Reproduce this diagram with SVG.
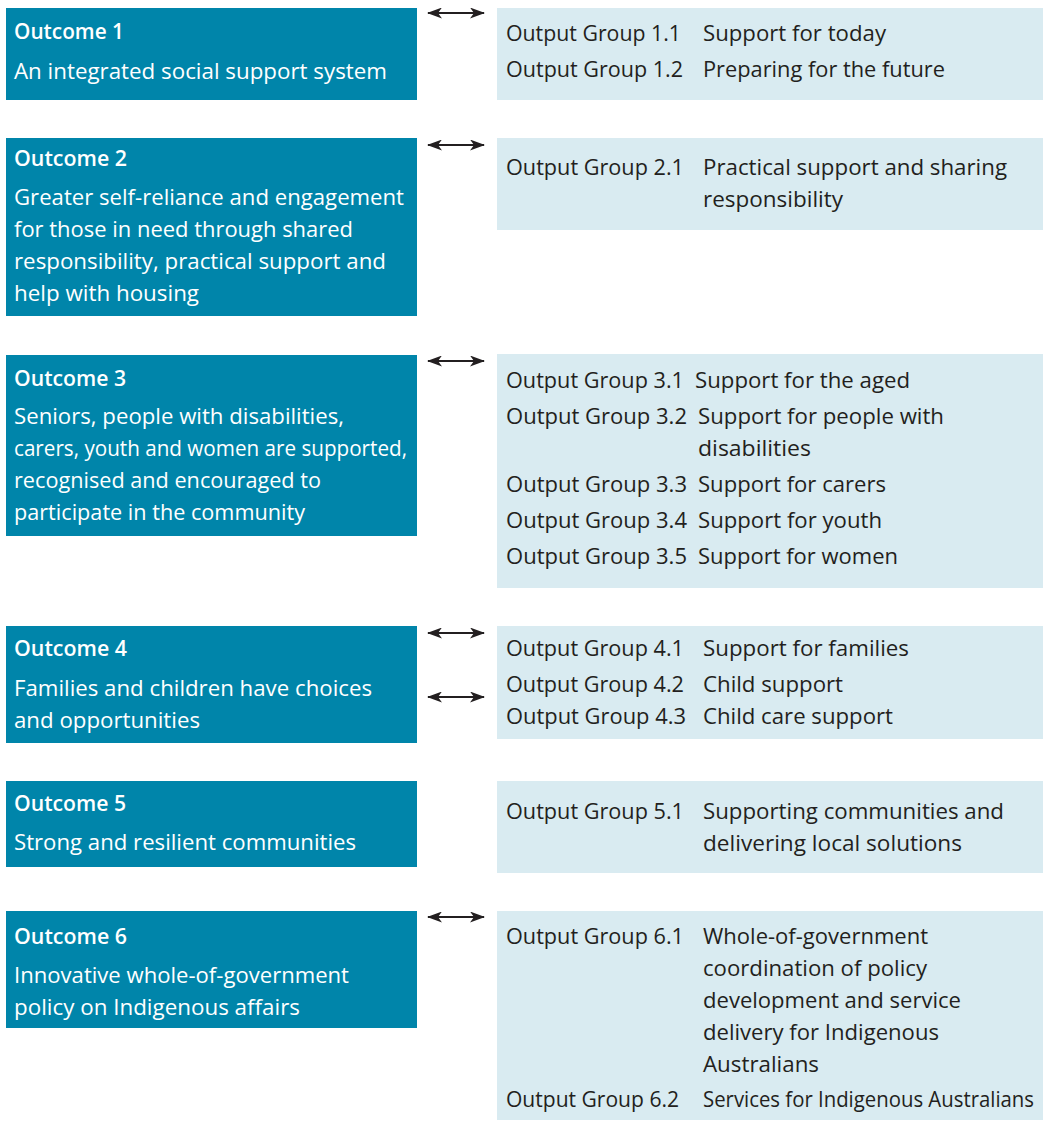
<svg xmlns="http://www.w3.org/2000/svg" width="1046" height="1121" viewBox="0 0 1046 1121">
<style>
.ob{fill:#0085aa}
.og{fill:#d9ebf1}
.t{font-family:"Open Sans","Noto Sans",sans-serif;font-size:21px;fill:#ffffff}
.tb{font-family:"Open Sans","Noto Sans",sans-serif;font-size:21px;font-weight:600;fill:#ffffff}
.g{font-family:"Open Sans","Noto Sans",sans-serif;font-size:21px;fill:#231f20}
.c{stroke:#231f20;stroke-width:2;fill:none}
</style>
<defs>
<marker id="ah" viewBox="0 0 15 11" refX="14" refY="5.5" markerWidth="15" markerHeight="11" markerUnits="userSpaceOnUse" orient="auto-start-reverse">
<path d="M0,0 L15,5.5 L0,11 L4,5.5 Z" fill="#231f20"/>
</marker>
</defs>
<g id="connectors">
<line class="c" x1="428" y1="13" x2="484" y2="13" marker-start="url(#ah)" marker-end="url(#ah)"/>
<line class="c" x1="428" y1="145" x2="484" y2="145" marker-start="url(#ah)" marker-end="url(#ah)"/>
<line class="c" x1="428" y1="361" x2="484" y2="361" marker-start="url(#ah)" marker-end="url(#ah)"/>
<line class="c" x1="428" y1="633" x2="484" y2="633" marker-start="url(#ah)" marker-end="url(#ah)"/>
<line class="c" x1="428" y1="697" x2="484" y2="697" marker-start="url(#ah)" marker-end="url(#ah)"/>
<line class="c" x1="428" y1="917" x2="484" y2="917" marker-start="url(#ah)" marker-end="url(#ah)"/>
</g>
<g id="outcome1">
<rect class="ob" x="6" y="8" width="411" height="92"/>
<text class="tb" x="14" y="39" textLength="110" lengthAdjust="spacingAndGlyphs">Outcome 1</text>
<text class="t" x="14" y="79" textLength="373" lengthAdjust="spacingAndGlyphs">An integrated social support system</text>
</g>
<g id="outputs1">
<rect class="og" x="497" y="8" width="546" height="92"/>
<text class="g" x="506" y="41" textLength="175" lengthAdjust="spacingAndGlyphs">Output Group 1.1</text>
<text class="g" x="703" y="41" textLength="183" lengthAdjust="spacingAndGlyphs">Support for today</text>
<text class="g" x="506" y="77" textLength="177" lengthAdjust="spacingAndGlyphs">Output Group 1.2</text>
<text class="g" x="703" y="77" textLength="242" lengthAdjust="spacingAndGlyphs">Preparing for the future</text>
</g>
<g id="outcome2">
<rect class="ob" x="6" y="138" width="411" height="178"/>
<text class="tb" x="14" y="166" textLength="113" lengthAdjust="spacingAndGlyphs">Outcome 2</text>
<text class="t" x="14" y="205" textLength="390" lengthAdjust="spacingAndGlyphs">Greater self-reliance and engagement</text>
<text class="t" x="14" y="237" textLength="339" lengthAdjust="spacingAndGlyphs">for those in need through shared</text>
<text class="t" x="14" y="269" textLength="372" lengthAdjust="spacingAndGlyphs">responsibility, practical support and</text>
<text class="t" x="14" y="301" textLength="185" lengthAdjust="spacingAndGlyphs">help with housing</text>
</g>
<g id="outputs2">
<rect class="og" x="497" y="138" width="546" height="92"/>
<text class="g" x="506" y="175" textLength="178" lengthAdjust="spacingAndGlyphs">Output Group 2.1</text>
<text class="g" x="703" y="175" textLength="304" lengthAdjust="spacingAndGlyphs">Practical support and sharing</text>
<text class="g" x="703" y="207" textLength="140" lengthAdjust="spacingAndGlyphs">responsibility</text>
</g>
<g id="outcome3">
<rect class="ob" x="6" y="355" width="411" height="181"/>
<text class="tb" x="14" y="386" textLength="112" lengthAdjust="spacingAndGlyphs">Outcome 3</text>
<text class="t" x="14" y="424" textLength="330" lengthAdjust="spacingAndGlyphs">Seniors, people with disabilities,</text>
<text class="t" x="14" y="456" textLength="393" lengthAdjust="spacingAndGlyphs">carers, youth and women are supported,</text>
<text class="t" x="14" y="488" textLength="307" lengthAdjust="spacingAndGlyphs">recognised and encouraged to</text>
<text class="t" x="14" y="520" textLength="291" lengthAdjust="spacingAndGlyphs">participate in the community</text>
</g>
<g id="outputs3">
<rect class="og" x="497" y="354" width="546" height="234"/>
<text class="g" x="506" y="388" textLength="178" lengthAdjust="spacingAndGlyphs">Output Group 3.1</text>
<text class="g" x="695" y="388" textLength="215" lengthAdjust="spacingAndGlyphs">Support for the aged</text>
<text class="g" x="506" y="424" textLength="181" lengthAdjust="spacingAndGlyphs">Output Group 3.2</text>
<text class="g" x="698" y="424" textLength="246" lengthAdjust="spacingAndGlyphs">Support for people with</text>
<text class="g" x="698" y="456" textLength="113" lengthAdjust="spacingAndGlyphs">disabilities</text>
<text class="g" x="506" y="492" textLength="181" lengthAdjust="spacingAndGlyphs">Output Group 3.3</text>
<text class="g" x="698" y="492" textLength="188" lengthAdjust="spacingAndGlyphs">Support for carers</text>
<text class="g" x="506" y="528" textLength="181" lengthAdjust="spacingAndGlyphs">Output Group 3.4</text>
<text class="g" x="698" y="528" textLength="184" lengthAdjust="spacingAndGlyphs">Support for youth</text>
<text class="g" x="506" y="564" textLength="181" lengthAdjust="spacingAndGlyphs">Output Group 3.5</text>
<text class="g" x="698" y="564" textLength="200" lengthAdjust="spacingAndGlyphs">Support for women</text>
</g>
<g id="outcome4">
<rect class="ob" x="6" y="626" width="411" height="117"/>
<text class="tb" x="14" y="656" textLength="113" lengthAdjust="spacingAndGlyphs">Outcome 4</text>
<text class="t" x="14" y="696" textLength="358" lengthAdjust="spacingAndGlyphs">Families and children have choices</text>
<text class="t" x="14" y="728" textLength="186" lengthAdjust="spacingAndGlyphs">and opportunities</text>
</g>
<g id="outputs4">
<rect class="og" x="497" y="626" width="546" height="113"/>
<text class="g" x="506" y="656" textLength="178" lengthAdjust="spacingAndGlyphs">Output Group 4.1</text>
<text class="g" x="703" y="656" textLength="206" lengthAdjust="spacingAndGlyphs">Support for families</text>
<text class="g" x="506" y="692" textLength="178" lengthAdjust="spacingAndGlyphs">Output Group 4.2</text>
<text class="g" x="703" y="692" textLength="140" lengthAdjust="spacingAndGlyphs">Child support</text>
<text class="g" x="506" y="724" textLength="180" lengthAdjust="spacingAndGlyphs">Output Group 4.3</text>
<text class="g" x="703" y="724" textLength="190" lengthAdjust="spacingAndGlyphs">Child care support</text>
</g>
<g id="outcome5">
<rect class="ob" x="6" y="781" width="411" height="86"/>
<text class="tb" x="14" y="811" textLength="112" lengthAdjust="spacingAndGlyphs">Outcome 5</text>
<text class="t" x="14" y="850" textLength="342" lengthAdjust="spacingAndGlyphs">Strong and resilient communities</text>
</g>
<g id="outputs5">
<rect class="og" x="497" y="781" width="546" height="92"/>
<text class="g" x="506" y="819" textLength="178" lengthAdjust="spacingAndGlyphs">Output Group 5.1</text>
<text class="g" x="703" y="819" textLength="301" lengthAdjust="spacingAndGlyphs">Supporting communities and</text>
<text class="g" x="703" y="851" textLength="259" lengthAdjust="spacingAndGlyphs">delivering local solutions</text>
</g>
<g id="outcome6">
<rect class="ob" x="6" y="911" width="411" height="117"/>
<text class="tb" x="14" y="944" textLength="113" lengthAdjust="spacingAndGlyphs">Outcome 6</text>
<text class="t" x="14" y="983" textLength="335" lengthAdjust="spacingAndGlyphs">Innovative whole-of-government</text>
<text class="t" x="14" y="1015" textLength="286" lengthAdjust="spacingAndGlyphs">policy on Indigenous affairs</text>
</g>
<g id="outputs6">
<rect class="og" x="497" y="911" width="546" height="209"/>
<text class="g" x="506" y="944" textLength="178" lengthAdjust="spacingAndGlyphs">Output Group 6.1</text>
<text class="g" x="703" y="944" textLength="225" lengthAdjust="spacingAndGlyphs">Whole-of-government</text>
<text class="g" x="703" y="976" textLength="224" lengthAdjust="spacingAndGlyphs">coordination of policy</text>
<text class="g" x="703" y="1008" textLength="258" lengthAdjust="spacingAndGlyphs">development and service</text>
<text class="g" x="703" y="1040" textLength="236" lengthAdjust="spacingAndGlyphs">delivery for Indigenous</text>
<text class="g" x="703" y="1072" textLength="116" lengthAdjust="spacingAndGlyphs">Australians</text>
<text class="g" x="506" y="1107" textLength="173" lengthAdjust="spacingAndGlyphs">Output Group 6.2</text>
<text class="g" x="703" y="1107" textLength="331" lengthAdjust="spacingAndGlyphs">Services for Indigenous Australians</text>
</g>
</svg>
